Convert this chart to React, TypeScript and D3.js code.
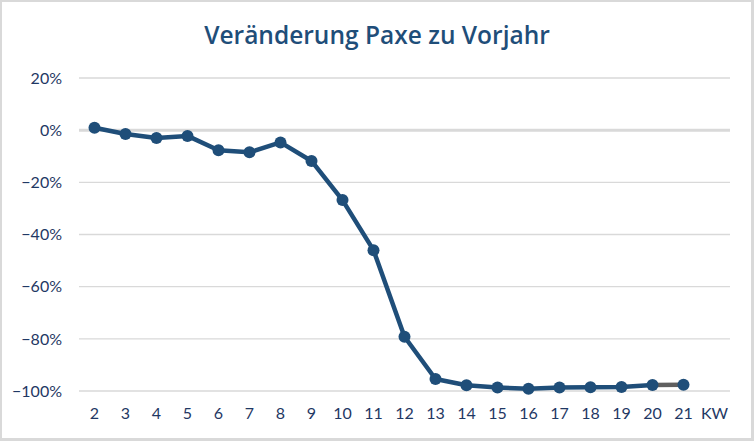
import React from "react";
import * as d3 from "d3";

const categories = ["2","3","4","5","6","7","8","9","10","11","12","13","14","15","16","17","18","19","20","21","KW"];
const weeks = ["2","3","4","5","6","7","8","9","10","11","12","13","14","15","16","17","18","19","20","21"];
const values = [0.9,-1.5,-3.0,-2.2,-7.7,-8.5,-4.7,-11.8,-26.8,-46.0,-79.2,-95.4,-97.8,-98.7,-99.1,-98.7,-98.6,-98.5,-97.7,-97.6];
const yTicks = [20,0,-20,-40,-60,-80,-100];
const title = "Veränderung Paxe zu Vorjahr";

const W = 754, H = 441;
const BLUE = "#1F4E79";
const LABEL = "#1F3864";

export default function App() {
  const x = d3.scaleBand<string>().domain(categories).range([79, 730]);
  const y = d3.scaleLinear().domain([-100, 20]).range([391, 78]);
  const cx = (c: string) => (x(c) as number) + x.bandwidth() / 2;
  const pts: [number, number][] = weeks.map((w, i) => [cx(w), y(values[i])]);
  const line = d3.line<[number, number]>().x(d => d[0]).y(d => d[1]);
  const n = pts.length;
  return (
    <svg width={W} height={H} style={{ position: "absolute", left: 0, top: 0 }}>
      <rect x={0} y={0} width={W} height={H} fill="#d9d9d9" />
      <rect x={2} y={2} width={749} height={436} fill="#ffffff" />
      <text x={377} y={43.5} textAnchor="middle" fontFamily="Open Sans" fontWeight={600} fontSize={24.5} fill={BLUE}>{title}</text>
      {yTicks.map(t => (
        <g key={t}>
          <line x1={79} x2={730} y1={y(t)} y2={y(t)} stroke="#d9d9d9" strokeWidth={t === 0 ? 3 : 1.3} />
          <text x={62} y={y(t)} dy="0.36em" textAnchor="end" fontFamily="Lato" fontSize={16} fill={LABEL}>{d3.format("d")(t) + "%"}</text>
        </g>
      ))}
      {categories.map(c => (
        <text key={c} x={cx(c)} y={419} textAnchor="middle" fontFamily="Lato" fontSize={16} fill={LABEL}>{c}</text>
      ))}
      <path d={line(pts.slice(0, n - 1)) || ""} fill="none" stroke={BLUE} strokeWidth={4.5} strokeLinejoin="round" />
      <path d={line(pts.slice(n - 2)) || ""} fill="none" stroke="#5f5f5f" strokeWidth={4.5} />
      {pts.map((p, i) => (
        <circle key={i} cx={p[0]} cy={p[1]} r={6} fill={BLUE} />
      ))}
    </svg>
  );
}
